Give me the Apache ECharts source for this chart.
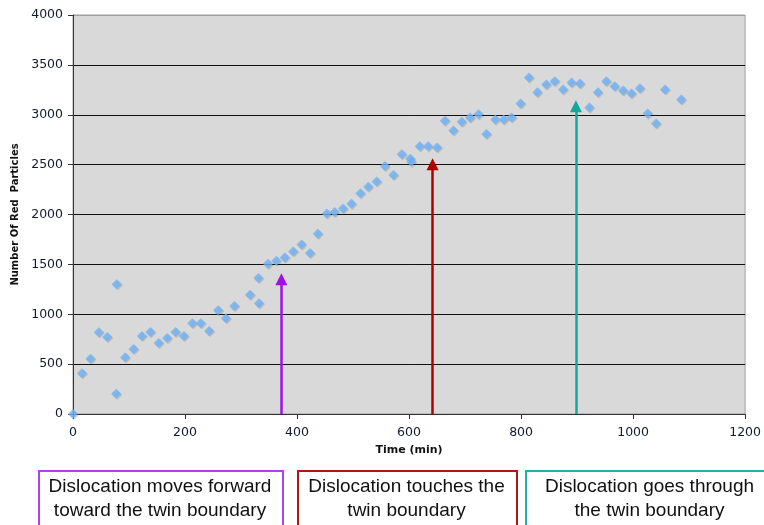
<!DOCTYPE html>
<html>
<head>
<meta charset="utf-8">
<script src="https://cdn.jsdelivr.net/npm/echarts@6/dist/echarts.min.js"></script>
<style>html,body{margin:0;padding:0;background:#fff;}#c{width:764px;height:525px;}</style>
</head>
<body>
<div id="c"></div>
<script>
// ---- data ----
const times = [0,16,31,46,61,77,78,93,108,123,138,153,168,183,198,213,228,243,259,273,288,316,332,331,348,363,378,393,408,423,437,453,467,482,497,513,527,542,557,572,587,602,604,619,634,650,664,679,694,709,724,738,754,769,783,799,814,829,845,860,875,890,905,922,937,952,967,982,997,1012,1026,1041,1057,1086];
const counts = [0,408,554,819,772,204,1300,568,652,782,822,712,762,822,782,909,909,832,1040,959,1083,1196,1110,1363,1506,1536,1570,1630,1700,1613,1806,2011,2024,2061,2107,2214,2278,2331,2485,2395,2605,2560,2530,2685,2685,2672,2939,2843,2929,2973,3006,2806,2953,2953,2973,3113,3374,3226,3304,3337,3253,3323,3313,3073,3226,3337,3285,3243,3213,3266,3013,2913,3253,3153];
const arrowTimes = [372, 642, 898];
const arrowEnds = [1350, 2505, 3085];
const arrowColors = ['#a010e8', '#b00000', '#12a89e'];
const boxLines = [
  ['Dislocation moves forward', 'toward the twin boundary'],
  ['Dislocation touches the', 'twin boundary'],
  ['Dislocation goes through', 'the twin boundary']
];
const boxColors = ['#b040f0', '#b01818', '#22b0a8'];
const xTicks = {min: 0, max: 1200, interval: 200};
const yTicks = {min: 0, max: 4000, interval: 500};

const chart = echarts.init(document.getElementById('c'), null, {renderer: 'canvas'});

const points = times.map((t, i) => [t, counts[i]]);
const markData = arrowTimes.map((t, i) => [
  {coord: [t, 0], symbol: 'none'},
  {coord: [t, arrowEnds[i]], symbol: 'triangle', lineStyle: {color: arrowColors[i]}, itemStyle: {color: arrowColors[i]}}
]);

const boxGeom = [
  {x: 38, w: 244},
  {x: 297, w: 219},
  {x: 525, w: 249}
];
const graphics = [];
boxGeom.forEach((b, i) => {
  graphics.push({
    type: 'rect', left: b.x, top: 470,
    shape: {x: 0, y: 0, width: b.w, height: 62},
    style: {fill: '#fff', stroke: boxColors[i], lineWidth: 2}
  });
  graphics.push({
    type: 'text', x: b.x + b.w / 2, y: 499,
    style: {
      text: boxLines[i].join('\n'),
      fill: '#111', font: '19px "Liberation Sans", Arial, sans-serif',
      align: 'center', verticalAlign: 'middle', lineHeight: 24
    }
  });
});

const ySplitColors = [];
for (let v = yTicks.min; v <= yTicks.max; v += yTicks.interval) ySplitColors.push(v === yTicks.max ? '#a0a0a0' : '#111');

const plain = v => String(v);

chart.setOption({
  animation: false,
  backgroundColor: '#fff',
  grid: {left: 73, right: 17, top: 15, bottom: 111, show: true, backgroundColor: '#d9d9d9', borderColor: '#a0a0a0', borderWidth: 1},
  xAxis: {
    type: 'value', min: xTicks.min, max: xTicks.max, interval: xTicks.interval,
    name: 'Time (min)', nameLocation: 'middle', nameGap: 31,
    nameTextStyle: {fontFamily: 'DejaVu Sans', fontWeight: 'bold', fontSize: 11, color: '#111'},
    axisLine: {show: true, onZero: false, lineStyle: {color: '#333', width: 1}},
    axisTick: {show: true, inside: false, length: 5, lineStyle: {color: '#333'}},
    axisLabel: {margin: 12, fontFamily: 'DejaVu Sans', fontSize: 12.5, color: '#111a30', formatter: plain},
    splitLine: {show: false}
  },
  yAxis: {
    type: 'value', min: yTicks.min, max: yTicks.max, interval: yTicks.interval,
    name: 'Number Of Red  Particles', nameLocation: 'middle', nameGap: 50, nameRotate: 90,
    nameTextStyle: {fontFamily: 'DejaVu Sans', fontWeight: 'bold', fontSize: 10, color: '#111'},
    axisLine: {show: true, lineStyle: {color: '#333', width: 1}},
    axisTick: {show: true, inside: false, length: 5, lineStyle: {color: '#333'}},
    axisLabel: {margin: 10, fontFamily: 'DejaVu Sans', fontSize: 12.5, color: '#111a30', formatter: plain},
    splitLine: {show: true, lineStyle: {color: ySplitColors, width: 1}}
  },
  series: [
    {
      type: 'scatter', data: points, symbol: 'diamond', symbolSize: 10,
      itemStyle: {color: '#70b4f8', shadowColor: 'rgba(0,0,0,0.2)', shadowBlur: 1, shadowOffsetX: 1, shadowOffsetY: 1},
      z: 3
    },
    {
      type: 'line', data: [], silent: true,
      markLine: {
        silent: true, animation: false,
        symbolSize: 12,
        label: {show: false},
        lineStyle: {type: 'solid', width: 2.5},
        data: markData
      },
      z: 4
    }
  ],
  graphic: graphics
});
</script>
</body>
</html>
